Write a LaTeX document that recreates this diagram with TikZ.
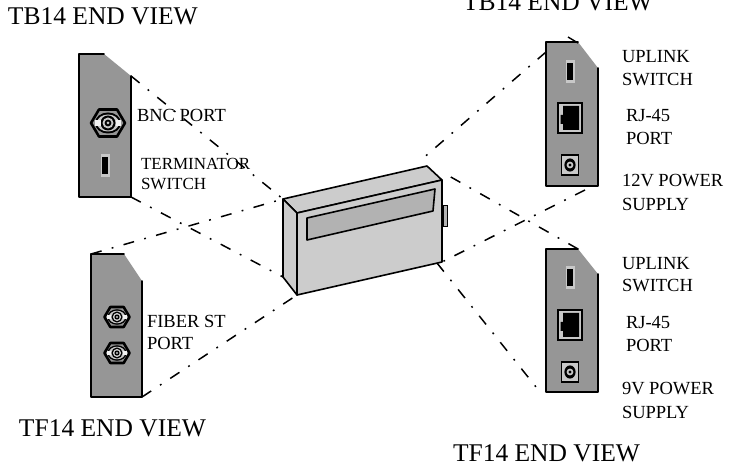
\documentclass[tikz,border=0pt]{standalone}
\usepackage{fontspec}
\setmainfont{Liberation Serif}
\newcommand{\bigfont}{\fontsize{25.5}{28}\selectfont}
\newcommand{\smfont}{\fontsize{18.5}{21}\selectfont}
\newcommand{\tinyfont}{\fontsize{17}{20}\selectfont}
\definecolor{panelgray}{HTML}{969696}
\definecolor{bodygray}{HTML}{CCCCCC}
\definecolor{wingray}{HTML}{B2B2B2}
\definecolor{swgray}{HTML}{C8C8C8}
\tikzset{
 x=1pt,y=-1pt,
 panel/.style={fill=panelgray,draw=none},
 paneledge/.style={draw=black,line width=1.6pt,line cap=round,line join=round},
 viewline/.style={draw=black,line width=1.5pt,dash pattern=on 11pt off 10.5pt on 1.8pt off 10.5pt},
 bodyline/.style={draw=black,line width=1.6pt,line join=round},
 lbl/.style={anchor=base west,inner sep=0pt,outer sep=0pt,font=\smfont,text=black},
 lblsm/.style={anchor=base west,inner sep=0pt,outer sep=0pt,font=\tinyfont,text=black},
 ttl/.style={anchor=base west,inner sep=0pt,outer sep=0pt,font=\bigfont,text=black},
}
\newcommand{\plate}[7]{%
 \coordinate (#1tl) at (#2,#3);
 \coordinate (#1tm) at (#4,#3);
 \coordinate (#1rt) at (#5,#6);
 \coordinate (#1br) at (#5,#7);
 \coordinate (#1bl) at (#2,#7);
 \fill[panel] (#1tl)--(#1tm)--(#1rt)--(#1br)--(#1bl)--cycle;
 \draw[paneledge] (#1tm)--(#1tl)--(#1bl)--(#1br)--(#1rt);
}
\newcommand{\toggle}[2]{%
 \fill[swgray] (#1-4.5,#2-11.5) rectangle (#1+4.5,#2+11.5);
 \fill[black] (#1-3,#2-8.5) rectangle (#1+3,#2+8.5);
}
\newcommand{\coax}[3]{% centre x,y, scale
 \begin{scope}[shift={(#1,#2)},scale=#3]
 \draw[black,line width=2.6pt,fill=panelgray,line join=round] (-17,0)--(-9,-13.5)--(9,-13.5)--(17,0)--(9,13.5)--(-9,13.5)--cycle;
 \fill[black] (0,0) ellipse (13 and 10.5);
 \fill[swgray] (0,0) ellipse (11 and 8.5);
 \fill[black] (0,0) circle (7.5);
 \fill[swgray] (0,0) circle (5.5);
 \fill[black] (0,0) circle (3.4);
 \fill[swgray] (0,0) circle (1.5);
 \fill[white!90!gray] (-13,-3) rectangle (-7.5,3);
 \fill[white!90!gray] (7.5,-3) rectangle (13,3);
 \end{scope}
}
\newcommand{\rjport}[2]{%
 \begin{scope}[shift={(#1,#2)}]
 \draw[black,line width=1.8pt,fill=swgray] (0,0) rectangle (24,30);
 \fill[black] (5,3) -- (21,3) -- (21,27) -- (5,27) -- (5,21) -- (2.5,21) -- (2.5,12) -- (5,12) -- cycle;
 \end{scope}
}
\newcommand{\jack}[2]{%
 \begin{scope}[shift={(#1,#2)}]
 \draw[black,line width=1.3pt,fill=swgray] (-8.5,-10) rectangle (8.5,10);
 \fill[black] (0,0) ellipse (5.6 and 6.6);
 \fill[swgray] (0,0) circle (3.4);
 \fill[black] (0,0) circle (1.7);
 \end{scope}
}
\begin{document}
\begin{tikzpicture}
\useasboundingbox (0,0) rectangle (729,465);
\coordinate (dbl) at (283,199);
\coordinate (dbr) at (427,166);
\coordinate (dfr) at (442,180);
\coordinate (dfl) at (297,213);
\coordinate (dlb) at (283,277);
\coordinate (dfb) at (297,295);
\coordinate (drb) at (442,262);
\coordinate (aTop) at (131,76);
\coordinate (aBot) at (131,197);
\coordinate (bTop) at (91,254);
\coordinate (bBot) at (142,397);
\coordinate (cStart) at (421,160);
\coordinate (cTop) at (546,52);
\coordinate (cBot) at (585,190);
\coordinate (eStart) at (442,172);
\coordinate (eTop) at (578,249);
\coordinate (fStart) at (437,263);
\coordinate (eBot) at (540,392);
\coordinate (tickA) at (568,37);
\coordinate (tickB) at (578,43);
\draw[viewline] (aTop) -- (dbl);
\draw[viewline] (aBot) -- (dlb);
\draw[viewline] (bTop) -- (dbl);
\draw[viewline] (bBot) -- (dfb);
\draw[viewline] (cTop) -- (cStart);
\draw[viewline] (cBot) -- (drb);
\draw[viewline] (eTop) -- (eStart);
\draw[viewline] (fStart) -- (eBot);
\plate{p}{79}{54}{104}{131}{76}{197}
\plate{q}{91}{254}{124}{142}{281}{397}
\plate{r}{546}{42}{578}{598}{68}{186}
\plate{s}{546}{249}{578}{598}{274}{392}
\draw[black,line width=1.4pt] (tickA) -- (tickB);
\coax{108}{123}{1}
\toggle{105}{166}
\coax{117}{317}{0.74}
\coax{117}{353}{0.74}
\toggle{570}{72}
\rjport{558}{103}
\jack{570}{165}
\toggle{570}{278}
\rjport{558}{310}
\jack{570}{372}
\filldraw[bodyline,fill=bodygray] (dbl)--(dbr)--(dfr)--(dfl)--cycle;
\filldraw[bodyline,fill=bodygray] (dbl)--(dfl)--(dfb)--(dlb)--cycle;
\filldraw[bodyline,fill=bodygray] (dfl)--(dfr)--(drb)--(dfb)--cycle;
\filldraw[bodyline,fill=wingray] (307,218)--(435,189)--(433,211)--(307,240)--cycle;
\filldraw[fill=wingray,draw=black,line width=0.7pt] (443,205) rectangle (447,226);
\node[ttl] (t1) at (8,25) {TB14 END VIEW};
\node[ttl] (t2) at (463,10.5) {TB14 END VIEW};
\node[ttl] (t3) at (19,436) {TF14 END VIEW};
\node[ttl] (t4) at (453,461) {TF14 END VIEW};
\node[lbl] (l1) at (137,122) {BNC PORT};
\node[lblsm] (l2) at (141,170) {TERMINATOR};
\node[lblsm] (l3) at (141,190) {SWITCH};
\node[lbl] (l4) at (147,327) {FIBER ST};
\node[lbl] (l5) at (147,349) {PORT};
\node[lbl] (l6) at (622,63) {UPLINK};
\node[lbl] (l7) at (622,86) {SWITCH};
\node[lbl] (l8) at (626,122) {RJ-45};
\node[lbl] (l9) at (626,145) {PORT};
\node[lbl] (l10) at (622,187) {12V POWER};
\node[lbl] (l11) at (622,211) {SUPPLY};
\node[lbl] (l12) at (622,270) {UPLINK};
\node[lbl] (l13) at (622,292) {SWITCH};
\node[lbl] (l14) at (626,329) {RJ-45};
\node[lbl] (l15) at (626,352) {PORT};
\node[lbl] (l16) at (622,395) {9V POWER};
\node[lbl] (l17) at (622,418) {SUPPLY};
\end{tikzpicture}
\end{document}
